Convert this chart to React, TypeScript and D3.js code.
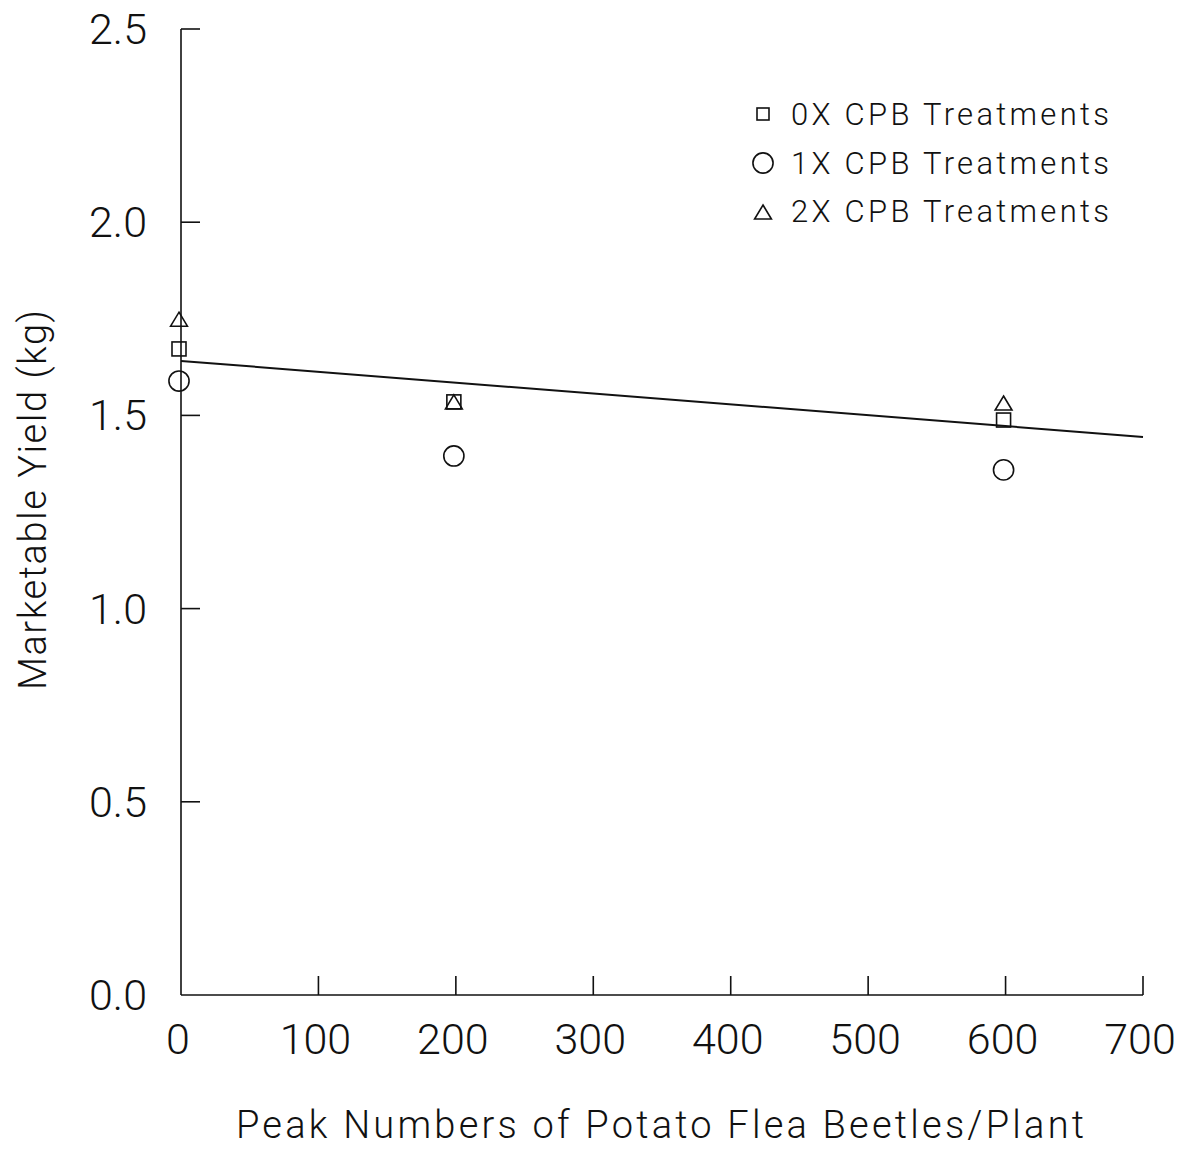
import React from 'react';
import * as d3 from 'd3';

// Peak flea beetle numbers (x) and marketable yield per CPB treatment level
const beetleCounts = [0, 200, 600];
const yield0X = [1.672, 1.535, 1.488];
const yield1X = [1.589, 1.395, 1.359];
const yield2X = [1.749, 1.535, 1.532];

// fitted regression line
const fitIntercept = 1.641;
const fitSlope = -0.000281;
const fitRange = [0, 700];

const xTicks = [0, 100, 200, 300, 400, 500, 600, 700];
const yTicks = [0, 0.5, 1.0, 1.5, 2.0, 2.5];

const seriesNames = ['0X CPB Treatments', '1X CPB Treatments', '2X CPB Treatments'];
const seriesShapes = ['square', 'circle', 'triangle'];

const FONT = 'Roboto, "Liberation Sans", Arial, sans-serif';

function Marker({ shape, cx, cy, size }: { shape: string; cx: number; cy: number; size: number }) {
  const common = { fill: 'none', stroke: '#111', strokeWidth: 1.6 };
  if (shape === 'square') {
    return <rect x={cx - size / 2} y={cy - size / 2} width={size} height={size} {...common} />;
  }
  if (shape === 'circle') {
    return <circle cx={cx} cy={cy} r={size * 0.72} {...common} />;
  }
  const w = size * 1.2;
  const h = size * 1.0;
  const pts = [[cx, cy - h / 2], [cx + w / 2, cy + h / 2], [cx - w / 2, cy + h / 2]];
  return <polygon points={pts.map(p => p.join(',')).join(' ')} {...common} />;
}

export default function App() {
  const width = 1196;
  const height = 1151;
  const x = d3.scaleLinear().domain([0, 700]).range([181, 1143]);
  const y = d3.scaleLinear().domain([0, 2.5]).range([995, 29]);
  const tickLen = 19;

  const series = [yield0X, yield1X, yield2X];
  const fitLine = d3.line<number>()
    .x(d => x(d))
    .y(d => y(fitIntercept + fitSlope * d));

  return (
    <svg width={width} height={height} style={{ position: 'absolute', left: 0, top: 0, background: '#fff' }}>
      {/* axes */}
      <g stroke="#111" strokeWidth={1.6} fill="none">
        <line x1={x(0)} x2={x(0)} y1={y(0)} y2={y(2.5)} />
        <line x1={x(0)} x2={x(700)} y1={y(0)} y2={y(0)} />
        {xTicks.filter(t => t > 0).map(t => (
          <line key={'xt' + t} x1={x(t)} x2={x(t)} y1={y(0)} y2={y(0) - tickLen} />
        ))}
        {yTicks.filter(t => t > 0).map(t => (
          <line key={'yt' + t} x1={x(0)} x2={x(0) + tickLen} y1={y(t)} y2={y(t)} />
        ))}
      </g>

      {/* tick labels */}
      <g fontFamily={FONT} fontWeight={300} fill="#111" fontSize={43}>
        {xTicks.map(t => (
          <text key={'xl' + t} x={x(t) - 3} y={1054} textAnchor="middle">{t}</text>
        ))}
        {yTicks.map(t => (
          <text key={'yl' + t} x={147} y={y(t) + 15} textAnchor="end">{d3.format('.1f')(t)}</text>
        ))}
      </g>

      {/* axis titles */}
      <text
        fontFamily={FONT} fontWeight={300} fontSize={38} fill="#111"
        x={660} y={1138} textAnchor="middle" textLength={848} lengthAdjust="spacing"
      >
        Peak Numbers of Potato Flea Beetles/Plant
      </text>
      <text
        fontFamily={FONT} fontWeight={300} fontSize={38} fill="#111"
        transform={`translate(46,500) rotate(-90)`} textAnchor="middle" textLength={380} lengthAdjust="spacing"
      >
        Marketable Yield (kg)
      </text>

      {/* regression line */}
      <path d={fitLine(fitRange) || ''} fill="none" stroke="#111" strokeWidth={2} />

      {/* data markers */}
      {series.map((vals, si) => (
        <g key={'s' + si}>
          {vals.map((v, i) => (
            <Marker key={i} shape={seriesShapes[si]} cx={x(beetleCounts[i]) - 2} cy={y(v)} size={14} />
          ))}
        </g>
      ))}

      {/* legend */}
      <g>
        {seriesNames.map((name, i) => (
          <g key={name}>
            <Marker shape={seriesShapes[i]} cx={763} cy={114 + i * 49} size={i === 0 ? 12 : 14} />
            <text
              x={791} y={125 + i * 48.5} fontFamily={FONT} fontWeight={300} fontSize={31} fill="#111"
              textLength={318} lengthAdjust="spacing"
            >
              {name}
            </text>
          </g>
        ))}
      </g>
    </svg>
  );
}
